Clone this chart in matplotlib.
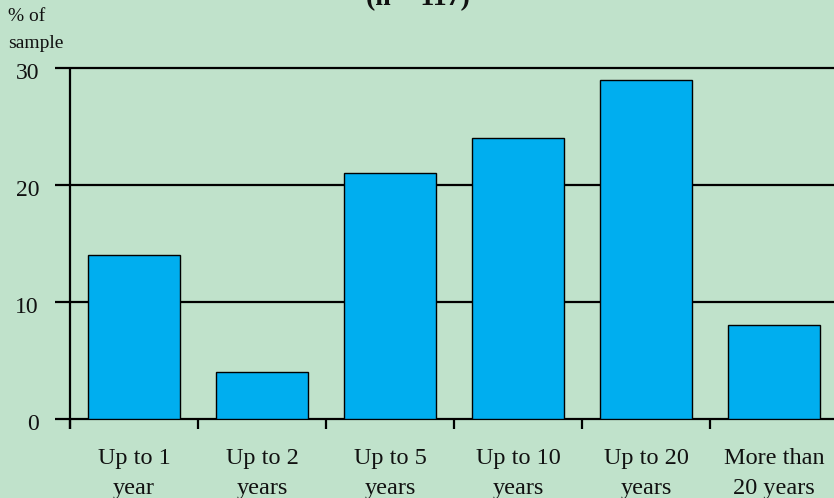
import matplotlib
matplotlib.use("Agg")
import matplotlib.pyplot as plt

categories = ["Up to 1\nyear", "Up to 2\nyears", "Up to 5\nyears",
              "Up to 10\nyears", "Up to 20\nyears", "More than\n20 years"]
values = [14, 4, 21, 24, 29, 8]
yticks = [0, 10, 20, 30]
title = "(n = 117)"
ylabel = "% of\nsample"

bg = "#C0E2CB"
bar_color = "#00AEEF"

plt.rcParams['font.family'] = ['Liberation Serif', 'DejaVu Serif']

W, H = 834, 498
fig = plt.figure(figsize=(W / 100, H / 100), dpi=100, facecolor=bg)

# axes placement in pixels
left_px, right_px = 55, 834
top_px, bottom_px = 68, 419
ax = fig.add_axes([left_px / W, (H - bottom_px) / H,
                   (right_px - left_px) / W, (bottom_px - top_px) / H])
ax.set_facecolor(bg)
ax.axis("off")

step = 128.0
xl = -0.5 - (70 - left_px) / step
xr = -0.5 + (right_px - 70) / step
ax.set_xlim(xl, xr)
ax.set_ylim(0, 30)

x = list(range(len(categories)))
ax.bar(x, values, width=92 / step, color=bar_color, edgecolor="black",
       linewidth=1.0, zorder=3)

# gridlines
for t in yticks:
    ax.plot([xl, xr], [t, t], color="black", lw=1.6, zorder=2,
            clip_on=False, solid_capstyle="butt")
    ax.text(-0.5 - 31 / step, t - 0.45, str(t), ha="right", va="center",
            fontsize=17, color="#111111", clip_on=False)

# y axis line extending below zero
ext = 10 / 11.7
ax.plot([-0.5, -0.5], [-ext, 30], color="black", lw=1.6, zorder=4,
        clip_on=False, solid_capstyle="butt")
# x ticks between categories
for k in range(len(categories) + 1):
    ax.plot([-0.5 + k, -0.5 + k], [0, -ext], color="black", lw=1.6,
            zorder=4, clip_on=False, solid_capstyle="butt")

# category labels
for xi, lab in zip(x, categories):
    ax.text(xi, -2.45, lab, ha="center", va="top", fontsize=17.5,
            color="#111111", linespacing=1.6, clip_on=False)

# y label
fig.text(8 / W, 1 - 8 / H, ylabel, ha="left", va="top", fontsize=14,
         color="#111111", linespacing=1.8)

# title (cut off at the top, as in the reference)
fig.text(418 / W, 1 - 5 / H, title, ha="center", va="baseline",
         fontsize=20, fontweight="bold", color="#111111")

fig.savefig("out.png", dpi=100, facecolor=bg)
